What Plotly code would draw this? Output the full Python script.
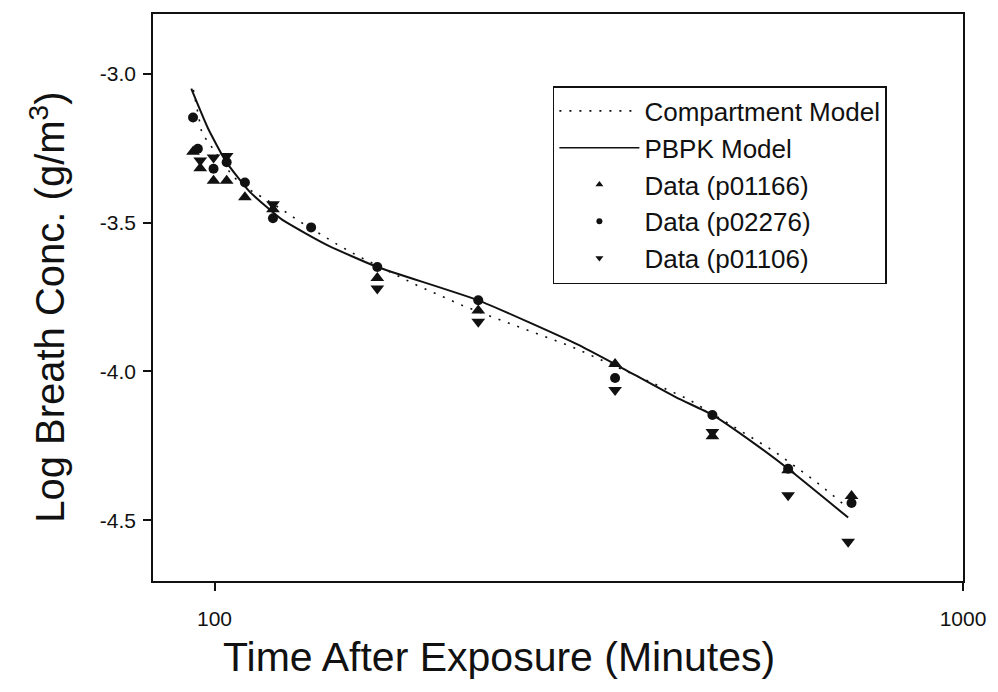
import plotly.graph_objects as go

# ---- Data (time in minutes, log breath concentration) ----
pbpk_t = [93.1, 98.0, 103.6, 111.3, 123.1, 132.3, 142.1, 165.0, 225.1, 304.9,
          342.7, 413.7, 462.6, 528.2, 583.9, 702.4]
pbpk_y = [-3.05, -3.183, -3.295, -3.395, -3.49, -3.536, -3.578, -3.649, -3.761,
          -3.908, -3.975, -4.087, -4.146, -4.245, -4.327, -4.491]

comp_t = [93.7, 94.6, 96.2, 105.8, 111.3, 115.3, 122.6, 129.7, 137.8, 146.5, 155.7,
          170.7, 186.6, 203.9, 216.1, 236.4, 259.0, 291.2, 300.2, 428.7, 482.0,
          528.2, 561.5, 597.1, 634.5, 674.4, 695.5]
comp_y = [-3.054, -3.105, -3.200, -3.345, -3.389, -3.412, -3.453, -3.495, -3.535,
          -3.576, -3.613, -3.663, -3.711, -3.754, -3.782, -3.819, -3.856, -3.903,
          -3.917, -4.092, -4.168, -4.230, -4.271, -4.319, -4.368, -4.422, -4.450]

p01166_t = [93.6, 95.7, 99.7, 103.8, 109.8, 119.7, 165.0, 225.1, 342.9, 462.6, 583.9, 709.7]
p01166_y = [-3.262, -3.317, -3.359, -3.359, -3.415, -3.455, -3.686, -3.795, -3.975,
            -4.218, -4.332, -4.418]

p02276_t = [93.6, 95.0, 99.7, 103.8, 109.8, 119.7, 134.6, 165.0, 225.1, 342.9, 462.6,
            583.9, 709.7]
p02276_y = [-3.147, -3.252, -3.319, -3.297, -3.365, -3.485, -3.516, -3.649, -3.761,
            -4.022, -4.146, -4.327, -4.442]

p01106_t = [95.7, 99.7, 103.8, 119.7, 165.0, 225.1, 342.9, 462.6, 583.9, 702.4]
p01106_y = [-3.291, -3.281, -3.276, -3.438, -3.721, -3.833, -4.062, -4.203, -4.416, -4.572]

x_ticks = [100, 1000]
x_ticktext = ["100", "1000"]
y_ticks = [-3.0, -3.5, -4.0, -4.5]
y_ticktext = ["-3.0", "-3.5", "-4.0", "-4.5"]

FONT = "Liberation Sans, Arial, sans-serif"
INK = "#111111"

fig = go.Figure()

# curves
fig.add_trace(go.Scatter(x=comp_t, y=comp_y, mode="lines", name="Compartment Model",
                         line=dict(color=INK, width=1.6, dash="2px,8px"),
                         showlegend=False))
fig.add_trace(go.Scatter(x=pbpk_t, y=pbpk_y, mode="lines", name="PBPK Model",
                         line=dict(color=INK, width=2, shape="spline", smoothing=0.5),
                         showlegend=False))
# data
fig.add_trace(go.Scatter(x=p01166_t, y=p01166_y, mode="markers", name="Data (p01166)",
                         marker=dict(symbol="triangle-up", size=12, color=INK),
                         showlegend=False))
fig.add_trace(go.Scatter(x=p02276_t, y=p02276_y, mode="markers", name="Data (p02276)",
                         marker=dict(symbol="circle", size=10, color=INK),
                         showlegend=False))
fig.add_trace(go.Scatter(x=p01106_t, y=p01106_y, mode="markers", name="Data (p01106)",
                         marker=dict(symbol="triangle-down", size=12, color=INK),
                         showlegend=False))

# legend entries (smaller symbols, like the reference)
fig.add_trace(go.Scatter(x=[None], y=[None], mode="lines", name="Compartment Model",
                         line=dict(color=INK, width=1.6, dash="2px,8px")))
fig.add_trace(go.Scatter(x=[None], y=[None], mode="lines", name="PBPK Model",
                         line=dict(color=INK, width=1.5)))
fig.add_trace(go.Scatter(x=[None], y=[None], mode="markers", name="Data (p01166)",
                         marker=dict(symbol="triangle-up", size=7, color=INK)))
fig.add_trace(go.Scatter(x=[None], y=[None], mode="markers", name="Data (p02276)",
                         marker=dict(symbol="circle", size=6, color=INK)))
fig.add_trace(go.Scatter(x=[None], y=[None], mode="markers", name="Data (p01106)",
                         marker=dict(symbol="triangle-down", size=7, color=INK)))

fig.update_layout(
    width=998, height=692,
    margin=dict(l=153, r=29, t=12, b=111),
    paper_bgcolor="white", plot_bgcolor="white",
    font=dict(family=FONT, color=INK),
    legend=dict(x=0.4937, y=0.873, xanchor="left", yanchor="top",
                bordercolor=INK, borderwidth=1.5, bgcolor="white",
                font=dict(size=26, family=FONT, color=INK),
                itemwidth=80, tracegroupgap=0),
    annotations=[
        dict(text="Log Breath Conc. (g/m<sup>3</sup>)", xref="paper", yref="paper",
             x=-0.13, y=0.483, textangle=-90, showarrow=False,
             xanchor="center", yanchor="middle",
             font=dict(size=40, family=FONT, color=INK)),
        dict(text="Time After Exposure (Minutes)", xref="paper", yref="paper",
             x=0.4277, y=-0.1336, showarrow=False,
             xanchor="center", yanchor="middle",
             font=dict(size=41, family=FONT, color=INK)),
    ],
)

fig.update_xaxes(type="log", range=[1.9178, 3.0], tickvals=x_ticks, ticktext=x_ticktext,
                 ticks="outside", ticklen=8, tickwidth=1.5, tickcolor=INK,
                 showgrid=False, zeroline=False, showline=True, linecolor=INK,
                 linewidth=1.5, mirror=True, tickfont=dict(size=21, family=FONT, color=INK),
                 ticklabelstandoff=10)
fig.update_yaxes(range=[-4.704, -2.799], tickvals=y_ticks, ticktext=y_ticktext,
                 ticks="outside", ticklen=8, tickwidth=1.5, tickcolor=INK,
                 showgrid=False, zeroline=False, showline=True, linecolor=INK,
                 linewidth=1.5, mirror=True, tickfont=dict(size=21, family=FONT, color=INK),
                 ticklabelstandoff=3)

fig.write_html("out.html")
